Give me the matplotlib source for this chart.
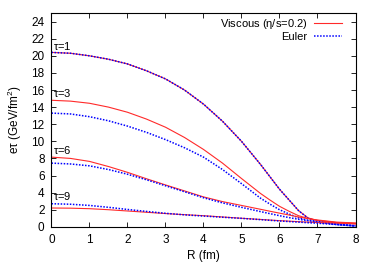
import matplotlib
matplotlib.use("Agg")
import matplotlib.pyplot as plt

plt.rcParams['font.family'] = ['Liberation Sans', 'DejaVu Sans']
plt.rcParams['mathtext.fontset'] = 'custom'
plt.rcParams['mathtext.rm'] = 'Liberation Sans'
plt.rcParams['mathtext.it'] = 'Liberation Sans'

# radius grid (fm)
R = [0, 0.5, 1, 1.5, 2, 2.5, 3, 3.5, 4, 4.5, 5, 5.5, 5.75, 6, 6.25, 6.5, 6.75, 7, 7.5, 8]

# viscous hydro (eta/s=0.2)
visc_t1 = [20.4, 20.3, 20.0, 19.6, 19.05, 18.25, 17.3, 16.0, 14.35, 12.35, 10.0, 7.3, 5.85, 4.4,
           3.15, 1.9, 1.05, 0.72, 0.45, 0.32]
visc_t3 = [14.8, 14.7, 14.45, 14.0, 13.4, 12.6, 11.65, 10.45, 9.05, 7.45, 5.65, 3.9, 3.13, 2.4,
           1.82, 1.3, 0.98, 0.75, 0.5, 0.38]
visc_t6 = [8.15, 8.0, 7.65, 7.05, 6.37, 5.62, 4.9, 4.2, 3.5, 2.95, 2.5, 2.05, 1.82, 1.6,
           1.38, 1.15, 0.96, 0.8, 0.55, 0.45]
visc_t9 = [2.2, 2.18, 2.12, 2.0, 1.85, 1.7, 1.55, 1.42, 1.3, 1.15, 1.0, 0.86, 0.79, 0.72,
           0.66, 0.6, 0.55, 0.5, 0.44, 0.4]

# ideal hydro (Euler)
euler_t1 = [20.4, 20.3, 20.0, 19.6, 19.05, 18.25, 17.3, 16.0, 14.35, 12.35, 10.0, 7.3, 5.85, 4.4,
            3.15, 1.9, 1.0, 0.62, 0.28, 0.08]
euler_t3 = [13.3, 13.2, 12.88, 12.4, 11.78, 11.05, 10.2, 9.25, 8.15, 6.7, 5.05, 3.35, 2.65, 2.0,
            1.5, 1.05, 0.77, 0.55, 0.3, 0.12]
euler_t6 = [7.45, 7.35, 7.13, 6.7, 6.15, 5.5, 4.8, 4.1, 3.4, 2.8, 2.28, 1.78, 1.54, 1.3,
            1.08, 0.88, 0.71, 0.55, 0.3, 0.12]
euler_t9 = [2.7, 2.64, 2.5, 2.28, 2.03, 1.8, 1.58, 1.4, 1.26, 1.12, 0.99, 0.84, 0.76, 0.68,
            0.62, 0.55, 0.48, 0.42, 0.26, 0.1]

tau_labels = [r'$\tau$=1', r'$\tau$=3', r'$\tau$=6', r'$\tau$=9']
label_y = [21.2, 15.6, 9.0, 3.6]

fig = plt.figure(figsize=(3.75, 2.63), dpi=100)
ax = fig.add_axes([0.1373, 0.1376, 0.8107, 0.8127])

visc = [visc_t1, visc_t3, visc_t6, visc_t9]
euler = [euler_t1, euler_t3, euler_t6, euler_t9]
for i in range(4):
    ax.plot(R, visc[i], color='#ff2a2a', lw=0.8,
            label=r'Viscous ($\eta$/s=0.2)' if i == 0 else None)
    ax.plot(R, euler[i], color='#0000ff', lw=1.1, ls=(0, (1, 1)),
            label='Euler' if i == 0 else None)

for t, y in zip(tau_labels, label_y):
    ax.text(0.03, y, t, fontsize=8, va='center', ha='left')

ax.set_xlim(0, 8)
ax.set_ylim(0, 25)
ax.set_xticks(range(0, 9))
ax.set_yticks(range(0, 25, 2))
ax.tick_params(direction='in', top=True, right=True, length=3.5, width=0.6,
               labelsize=8.5, pad=5)
for s in ax.spines.values():
    s.set_linewidth(0.8)

ax.set_xlabel('R (fm)', fontsize=8.5, labelpad=3)
ax.set_ylabel(r'e$\tau$ (GeV/fm$^2$)', fontsize=8.5, labelpad=5)

leg = ax.legend(loc='upper right', fontsize=8, frameon=False, markerfirst=False,
                handlelength=2.5, handletextpad=0.63, labelspacing=0.1,
                borderaxespad=0, borderpad=0, bbox_to_anchor=(0.9556, 0.9835))
for t in leg.get_texts():
    t.set_ha('right')

fig.savefig('out.png', dpi=100)
